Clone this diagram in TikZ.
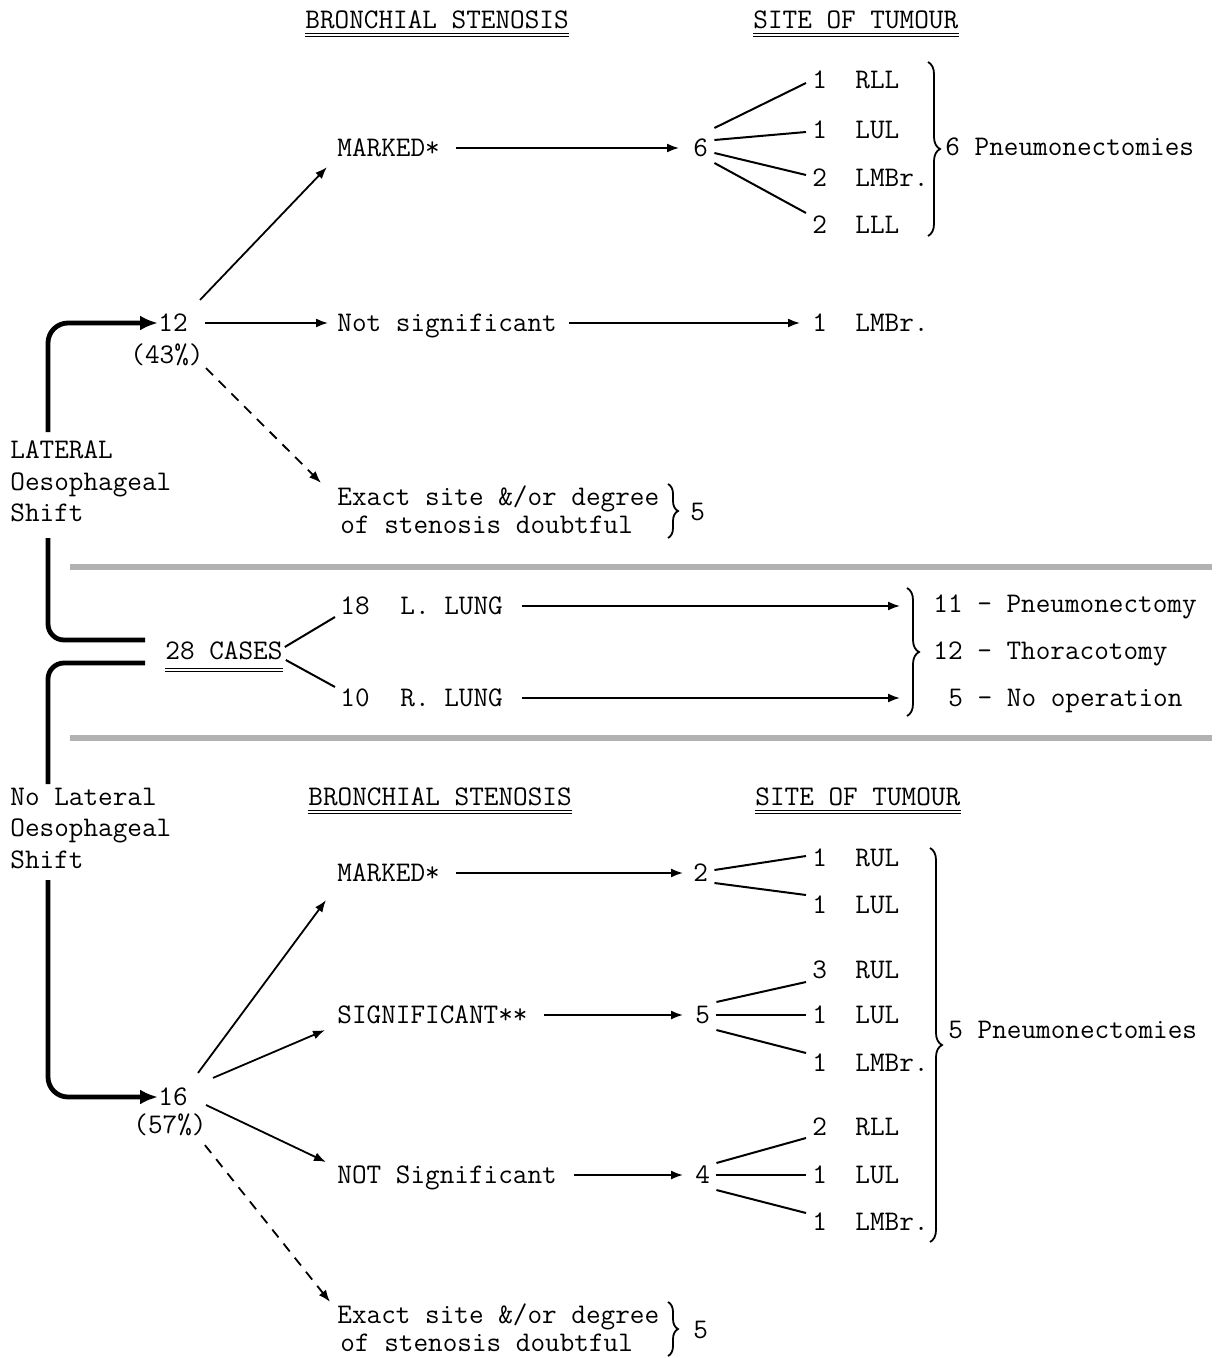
\documentclass[tikz,border=0pt]{standalone}
\usetikzlibrary{arrows.meta,decorations.pathreplacing}
\newcommand\tw{\fontsize{14.2}{16}\selectfont\ttfamily}

\begin{document}
\begin{tikzpicture}[x=0.5pt,y=-0.5pt,
  lbl/.style={inner sep=0pt,text height=8.7pt,text depth=0pt,anchor=west,font=\tw},
  hub/.style={lbl,inner xsep=3pt,inner ysep=3pt},
  num/.style={lbl,inner xsep=3pt},
  arr/.style={line width=0.9pt,-{Latex[length=6pt,width=4.5pt]}},
  fan/.style={line width=1pt},
  thk/.style={line width=2.4pt,rounded corners=10pt,-{Latex[length=9pt,width=7.5pt]}},
  thkline/.style={line width=2.4pt,rounded corners=8pt},
  dsh/.style={arr,dash pattern=on 5pt off 4pt},
  dblul/.style={line width=0.6pt,double,double distance=0.9pt},
  sep/.style={gray!60,line width=2.6pt},
  brc/.style={decorate,decoration={brace,amplitude=6pt},line width=0.9pt}]
\useasboundingbox (0,0) rectangle (1217,1358);

% upper half: lateral shift
\node[lbl] (bsA) at (305,20) {BRONCHIAL STENOSIS};
\node[lbl] (sotA) at (753,20) {SITE OF TUMOUR};
\draw[dblul] ([yshift=-3pt]bsA.south west) -- ([yshift=-3pt]bsA.south east);
\draw[dblul] ([yshift=-3pt]sotA.south west) -- ([yshift=-3pt]sotA.south east);

\node[lbl] (markedA) at (337,148) {MARKED*};
\node[hub] (hubA) at (687,148) {6};
\foreach \n/\y/\k/\s in {A1/80/1/RLL,A2/130/1/LUL,A3/178/2/LMBr.,A4/225/2/LLL,A5/323/1/LMBr.}{
  \node[num] (n\n) at (806,\y) {\k};
  \node[lbl] (s\n) at (855,\y) {\s};
}
\draw[arr,shorten <=8pt,shorten >=4pt] (markedA.east) -- (hubA.west);
\draw[fan] ([yshift=10pt]hubA.east) -- ([yshift=-1.5pt]nA1.west);
\draw[fan] ([yshift=4pt]hubA.east) -- ([yshift=-1pt]nA2.west);
\draw[fan] ([yshift=-2.5pt]hubA.east) -- ([yshift=1.5pt]nA3.west);
\draw[fan] ([yshift=-7.5pt]hubA.east) -- ([yshift=6pt]nA4.west);
\draw[brc] (928,62) -- (928,236);
\node[lbl] (pneuA) at (945,147) {6 Pneumonectomies};

\node[lbl] (twelve) at (158,323) {12};
\node[lbl] (pctA) at (130,355) {(43\%)};
\node[lbl] (notsig) at (337,323) {Not significant};
\draw[arr,shorten <=8.5pt,shorten >=4.5pt] (twelve.east) -- (twelve.east -| notsig.west);
\draw[arr,shorten <=6pt,shorten >=3pt] (notsig.east) -- (notsig.east -| nA5.west);
\draw[arr] ([xshift=6pt,yshift=7pt]twelve.north east) -- ([xshift=-5pt,yshift=-5pt]markedA.south west);

\node[lbl] (exA1) at (337,497) {Exact site \&/or degree};
\node[lbl] (exA2) at (340,525) {of stenosis doubtful};
\draw[brc,decoration={amplitude=5pt}] (668,484) -- (668,538);
\node[lbl] (fiveA) at (690,512) {5};
\draw[dsh] ([xshift=1pt,yshift=-2pt]pctA.south east) -- ([xshift=-8pt,yshift=2.5pt]exA1.north west);

\node[lbl] (latA1) at (10,450) {LATERAL};
\node[lbl] (latA2) at (10,482) {Oesophageal};
\node[lbl] (latA3) at (10,513) {Shift};

% all cases
\draw[sep] (70,567) -- (1212,567);
\draw[sep] (70,738) -- (1212,738);
\node[lbl] (cases) at (165,651) {28 CASES};
\draw[dblul] ([yshift=-5pt]cases.south west) -- ([yshift=-5pt]cases.south east);
\node[lbl] (n18) at (340,606) {18};
\node[lbl] (lungL) at (400,606) {L. LUNG};
\node[lbl] (n10) at (340,698) {10};
\node[lbl] (lungR) at (400,698) {R. LUNG};
\draw[fan] ([xshift=1pt,yshift=2pt]cases.east) -- ([xshift=-2.5pt,yshift=-5.5pt]n18.west);
\draw[fan] ([xshift=1.5pt,yshift=-4.5pt]cases.east) -- ([xshift=-2.5pt,yshift=5.5pt]n10.west);
\coordinate (brB) at (907,588);
\draw[arr,shorten <=9.5pt,shorten >=3.5pt] (lungL.east) -- (lungL.east -| brB);
\draw[arr,shorten <=9.5pt,shorten >=3.5pt] (lungR.east) -- (lungR.east -| brB);
\draw[brc] (brB) -- (907,716);
\node[lbl] (res1) at (933,604) {11 - Pneumonectomy};
\node[lbl] (res2) at (933,651) {12 - Thoracotomy};
\node[lbl] (res3) at (948,698) {5 - No operation};

\coordinate (latTop) at (48,432);
\coordinate (latBot) at (48,538);
\coordinate (nolatTop) at (48,784);
\coordinate (nolatBot) at (48,880);
\draw[thk] (latTop) |- (twelve.west);
\draw[thkline] (latBot) |- ([xshift=-10pt,yshift=5.5pt]cases.west);
\draw[thkline] ([xshift=-10pt,yshift=-6pt]cases.west) -| (nolatTop);

% lower half: no lateral shift
\node[lbl] (latB1) at (10,797) {No Lateral};
\node[lbl] (latB2) at (10,828) {Oesophageal};
\node[lbl] (latB3) at (10,860) {Shift};
\node[lbl] (bsB) at (308,797) {BRONCHIAL STENOSIS};
\node[lbl] (sotB) at (755,797) {SITE OF TUMOUR};
\draw[dblul] ([yshift=-3pt]bsB.south west) -- ([yshift=-3pt]bsB.south east);
\draw[dblul] ([yshift=-3pt]sotB.south west) -- ([yshift=-3pt]sotB.south east);

\foreach \n/\y/\k/\s in {B1/858/1/RUL,B2/905/1/LUL,B3/970/3/RUL,B4/1015/1/LUL,B5/1063/1/LMBr.,
    B6/1127/2/RLL,B7/1175/1/LUL,B8/1222/1/LMBr.}{
  \node[num] (n\n) at (806,\y) {\k};
  \node[lbl] (s\n) at (855,\y) {\s};
}
\node[lbl] (markedB) at (337,873) {MARKED*};
\node[hub] (hubB) at (687,873) {2};
\node[lbl] (sigB) at (337,1015) {SIGNIFICANT**};
\node[hub] (hubC) at (689,1015) {5};
\node[lbl] (notsigB) at (337,1175) {NOT Significant};
\node[hub] (hubD) at (689,1175) {4};
\draw[arr,shorten <=8pt,shorten >=2pt] (markedB.east) -- (hubB.west);
\draw[arr,shorten <=8pt,shorten >=3pt] (sigB.east) -- (hubC.west);
\draw[arr,shorten <=8.5pt,shorten >=3pt] (notsigB.east) -- (hubD.west);
\draw[fan] ([yshift=1.5pt]hubB.east) -- ([yshift=1pt]nB1.west);
\draw[fan] ([yshift=-5pt]hubB.east) -- ([yshift=5pt]nB2.west);
\draw[fan] ([yshift=6.5pt]hubC.east) -- ([yshift=-6pt]nB3.west);
\draw[fan] (hubC.east) -- (nB4.west);
\draw[fan] ([yshift=-7.5pt]hubC.east) -- ([yshift=5pt]nB5.west);
\draw[fan] ([yshift=6pt]hubD.east) -- ([yshift=-5.5pt]nB6.west);
\draw[fan] (hubD.east) -- (nB7.west);
\draw[fan] ([yshift=-7.5pt]hubD.east) -- ([yshift=4.5pt]nB8.west);
\draw[brc] (930,848) -- (930,1242);
\node[lbl] (pneuB) at (948,1030) {5 Pneumonectomies};

\node[lbl] (sixteen) at (158,1097) {16};
\node[lbl] (pctB) at (133,1125) {(57\%)};
\draw[thk] (nolatBot) |- (sixteen.west);
\draw[arr] ([xshift=5pt,yshift=7.5pt]sixteen.north east) -- ([xshift=-5.5pt,yshift=-9pt]markedB.south west);
\draw[arr] ([xshift=12.5pt,yshift=5pt]sixteen.north east) -- ([xshift=-6pt,yshift=-3pt]sigB.south west);
\draw[arr] ([xshift=9pt,yshift=-4pt]sixteen.east) -- ([xshift=-5.5pt,yshift=6.5pt]notsigB.west);

\node[lbl] (exB1) at (337,1315) {Exact site \&/or degree};
\node[lbl] (exB2) at (340,1343) {of stenosis doubtful};
\draw[brc,decoration={amplitude=5pt}] (668,1302) -- (668,1356);
\node[lbl] (fiveB) at (693,1330) {5};
\draw[dsh] ([xshift=-1pt,yshift=-5.5pt]pctB.south east) -- ([xshift=-3.5pt,yshift=2pt]exB1.north west);
\end{tikzpicture}
\end{document}
